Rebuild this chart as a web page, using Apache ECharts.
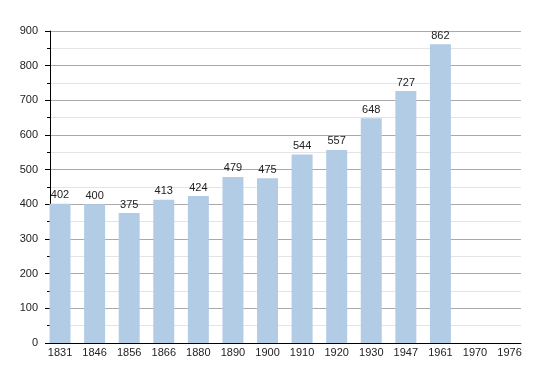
<!DOCTYPE html>
<html><head><meta charset="utf-8">
<script src="https://cdn.jsdelivr.net/npm/echarts@6/dist/echarts.min.js"></script>
<style>html,body{margin:0;padding:0;background:#fff}#c{width:550px;height:373px}</style>
</head><body><div id="c"></div>
<script>
var years = ['1831','1846','1856','1866','1880','1890','1900','1910','1920','1930','1947','1961','1970','1976'];
var population = [402,400,375,413,424,479,475,544,557,648,727,862,null,null];
var yTicks = [0,100,200,300,400,500,600,700,800,900];

var chart = echarts.init(document.getElementById('c'), null, {renderer:'canvas'});
var positions = years.map(function(_, i){ return i; });
var barData = [];
population.forEach(function(v, i){ if (v !== null) barData.push([i, v]); });
var font = 'Liberation Sans, Arial, sans-serif';
chart.setOption({
  animation:false,
  backgroundColor:'#ffffff',
  grid:{left:50, right:29, top:31, bottom:30, containLabel:false},
  xAxis:{
    type:'value', min:-0.29, max:13.33,
    splitLine:{show:false},
    axisLine:{show:true, lineStyle:{color:'#000', width:1}},
    axisTick:{show:false},
    axisLabel:{customValues:positions, formatter:function(v){ return years[Math.round(v)]; },
      color:'#222', fontFamily:font, fontSize:11, margin:4, showMinLabel:true, showMaxLabel:true}
  },
  yAxis:{
    type:'value', min:yTicks[0], max:yTicks[yTicks.length-1], interval:100,
    axisLine:{show:true, onZero:false, lineStyle:{color:'#000', width:1}},
    axisTick:{show:true, length:5, lineStyle:{color:'#000'}},
    minorTick:{show:true, splitNumber:2, length:3, lineStyle:{color:'#000'}},
    splitLine:{show:true, lineStyle:{color:'#aaaaaa', width:1}},
    minorSplitLine:{show:true, lineStyle:{color:'#e4e4e4', width:1}},
    axisLabel:{color:'#222', fontFamily:font, fontSize:11, margin:12}
  },
  series:[{
    type:'bar', data:barData, barWidth:21,
    itemStyle:{color:'#b3cce6'},
    label:{show:true, position:'top', distance:3, color:'#222', fontFamily:font, fontSize:11,
      formatter:function(p){ return p.value[1]; }}
  }]
});
</script></body></html>
